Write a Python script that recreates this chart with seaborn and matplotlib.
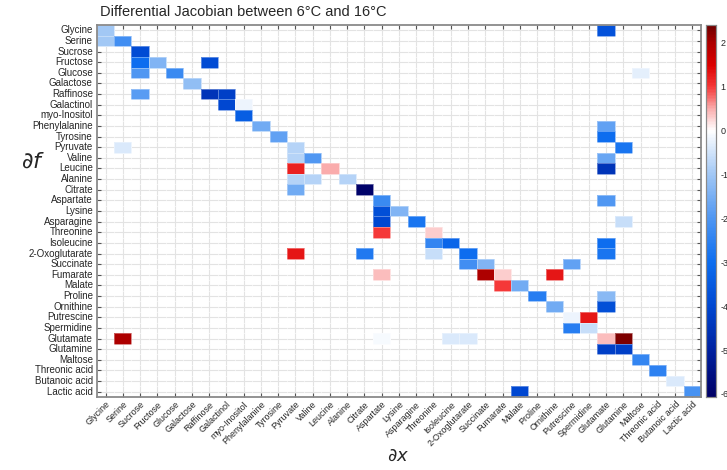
import numpy as np
import pandas as pd
import matplotlib
matplotlib.use("Agg")
import matplotlib.pyplot as plt
import seaborn as sns
from matplotlib.colors import LinearSegmentedColormap

names = ["Glycine", "Serine", "Sucrose", "Fructose", "Glucose", "Galactose",
         "Raffinose", "Galactinol", "myo-Inositol", "Phenylalanine", "Tyrosine",
         "Pyruvate", "Valine", "Leucine", "Alanine", "Citrate", "Aspartate",
         "Lysine", "Asparagine", "Threonine", "Isoleucine", "2-Oxoglutarate",
         "Succinate", "Fumarate", "Malate", "Proline", "Ornithine", "Putrescine",
         "Spermidine", "Glutamate", "Glutamine", "Maltose", "Threonic acid",
         "Butanoic acid", "Lactic acid"]

cell_rows = [
    "Glycine", "Glycine",
    "Serine", "Serine",
    "Sucrose",
    "Fructose", "Fructose", "Fructose",
    "Glucose", "Glucose", "Glucose",
    "Galactose",
    "Raffinose", "Raffinose", "Raffinose",
    "Galactinol", "Galactinol",
    "myo-Inositol",
    "Phenylalanine", "Phenylalanine",
    "Tyrosine", "Tyrosine",
    "Pyruvate", "Pyruvate", "Pyruvate",
    "Valine", "Valine", "Valine",
    "Leucine", "Leucine", "Leucine",
    "Alanine", "Alanine", "Alanine",
    "Citrate", "Citrate",
    "Aspartate", "Aspartate",
    "Lysine", "Lysine",
    "Asparagine", "Asparagine", "Asparagine",
    "Threonine", "Threonine",
    "Isoleucine", "Isoleucine", "Isoleucine",
    "2-Oxoglutarate", "2-Oxoglutarate", "2-Oxoglutarate", "2-Oxoglutarate", "2-Oxoglutarate",
    "Succinate", "Succinate", "Succinate",
    "Fumarate", "Fumarate", "Fumarate", "Fumarate",
    "Malate", "Malate",
    "Proline", "Proline",
    "Ornithine", "Ornithine",
    "Putrescine", "Putrescine",
    "Spermidine", "Spermidine",
    "Glutamate", "Glutamate", "Glutamate", "Glutamate", "Glutamate", "Glutamate",
    "Glutamine", "Glutamine",
    "Maltose",
    "Threonic acid",
    "Butanoic acid",
    "Lactic acid", "Lactic acid",
]
cell_cols = [
    "Glycine", "Glutamate",
    "Glycine", "Serine",
    "Sucrose",
    "Sucrose", "Fructose", "Raffinose",
    "Sucrose", "Glucose", "Maltose",
    "Galactose",
    "Sucrose", "Raffinose", "Galactinol",
    "Galactinol", "myo-Inositol",
    "myo-Inositol",
    "Phenylalanine", "Glutamate",
    "Tyrosine", "Glutamate",
    "Serine", "Pyruvate", "Glutamine",
    "Pyruvate", "Valine", "Glutamate",
    "Pyruvate", "Leucine", "Glutamate",
    "Pyruvate", "Valine", "Alanine",
    "Pyruvate", "Citrate",
    "Aspartate", "Glutamate",
    "Aspartate", "Lysine",
    "Aspartate", "Asparagine", "Glutamine",
    "Aspartate", "Threonine",
    "Threonine", "Isoleucine", "Glutamate",
    "Pyruvate", "Citrate", "Threonine", "2-Oxoglutarate", "Glutamate",
    "2-Oxoglutarate", "Succinate", "Putrescine",
    "Aspartate", "Succinate", "Fumarate", "Ornithine",
    "Fumarate", "Malate",
    "Proline", "Glutamate",
    "Ornithine", "Glutamate",
    "Putrescine", "Spermidine",
    "Putrescine", "Spermidine",
    "Serine", "Aspartate", "Isoleucine", "2-Oxoglutarate", "Glutamate", "Glutamine",
    "Glutamate", "Glutamine",
    "Maltose",
    "Threonic acid",
    "Butanoic acid",
    "Malate", "Lactic acid",
]
cell_values = [
    -1.0, -3.7,
    -1.0, -2.2,
    -3.9,
    -3.0, -1.4, -3.9,
    -2.0, -2.3, -0.3,
    -1.2,
    -1.9, -4.5, -4.2,
    -4.0, -0.2,
    -3.4,
    -1.6, -1.8,
    -1.8, -3.0,
    -0.4, -0.8, -2.8,
    -0.8, -2.0, -1.7,
    1.2, 0.5, -4.5,
    -0.8, -0.8, -0.8,
    -1.6, -6.0,
    -2.3, -2.0,
    -3.8, -1.4,
    -4.0, -2.8, -0.6,
    1.0, 0.3,
    -2.4, -3.2, -3.0,
    1.3, -2.7, -0.6, -3.0, -2.8,
    -2.2, -1.4, -1.8,
    0.4, 2.0, 0.3, 1.3,
    1.0, -1.6,
    -2.6, -1.3,
    -1.6, -3.8,
    -0.2, 1.3,
    -2.6, -0.6,
    2.0, -0.1, -0.4, -0.4, 0.4, 2.3,
    -4.2, -4.2,
    -2.4,
    -2.5,
    -0.4,
    -4.0, -2.1,
]

cbar_ticks = [2, 1, 0, -1, -2, -3, -4, -5, -6]
vmin, vmax = -6.07, 2.4

mat = pd.DataFrame(np.nan, index=names, columns=names)
for r, c, v in zip(cell_rows, cell_cols, cell_values):
    mat.loc[r, c] = v

# diverging colormap, white at 0
nodes = [(-6.07, (0.00, 0.00, 0.40)),
         (-5.0, (0.00, 0.13, 0.63)),
         (-4.0, (0.00, 0.28, 0.82)),
         (-3.0, (0.05, 0.43, 0.94)),
         (-2.0, (0.31, 0.59, 0.95)),
         (-1.0, (0.63, 0.78, 0.96)),
         (0.0, (1.0, 1.0, 1.0)),
         (0.5, (0.98, 0.68, 0.68)),
         (1.0, (0.96, 0.22, 0.22)),
         (1.5, (0.86, 0.00, 0.00)),
         (2.0, (0.68, 0.00, 0.00)),
         (2.4, (0.43, 0.00, 0.00))]
cmap = LinearSegmentedColormap.from_list(
    "jac", [((v - vmin) / (vmax - vmin), col) for v, col in nodes])

sns.set_style("white")
plt.rcParams["font.family"] = ["Liberation Sans", "DejaVu Sans"]
plt.rcParams["axes.unicode_minus"] = False

fig = plt.figure(figsize=(7.27, 4.70), dpi=100)
ax = fig.add_axes([0.1334, 0.1553, 0.8308, 0.7915])
cax = fig.add_axes([0.9711, 0.1553, 0.0138, 0.7915])

sns.heatmap(mat, ax=ax, cbar_ax=cax, cmap=cmap, vmin=vmin, vmax=vmax,
            mask=mat.isna(), xticklabels=names, yticklabels=names,
            linewidths=0.4, linecolor=(1, 1, 1, 0.35))

ax.set_axisbelow(True)
ax.grid(True, color="#e3e3e3", linewidth=0.8)
ax.set_facecolor("white")
for s in ax.spines.values():
    s.set_visible(True)
    s.set_color("#8a8a8a")
    s.set_linewidth(1.3)

ax.tick_params(axis="both", which="major", direction="in", length=3,
               color="#555555", top=True, right=True, bottom=True, left=True,
               labeltop=False, labelright=False)
ax.tick_params(axis="y", labelsize=7, pad=3)
ax.tick_params(axis="x", labelsize=6.5, pad=2)
plt.setp(ax.get_yticklabels(), rotation=0)
plt.setp(ax.get_xticklabels(), rotation=45, ha="right", rotation_mode="anchor")
ax.set_xlabel("")
ax.set_ylabel("")

cax.set_yticks(cbar_ticks)
cax.tick_params(labelsize=6.5, length=0, pad=3)
for s in cax.spines.values():
    s.set_visible(True)
    s.set_color("#8a8a8a")
    s.set_linewidth(0.8)

fig.text(0.137, 0.99, "Differential Jacobian between 6°C and 16°C",
         ha="left", va="top", fontsize=10.5)
fig.text(0.045, 0.655, r"$\partial f$", ha="center", va="center", fontsize=16)
fig.text(0.548, 0.03, r"$\partial x$", ha="center", va="center", fontsize=13)

fig.savefig("out.png", dpi=100)
